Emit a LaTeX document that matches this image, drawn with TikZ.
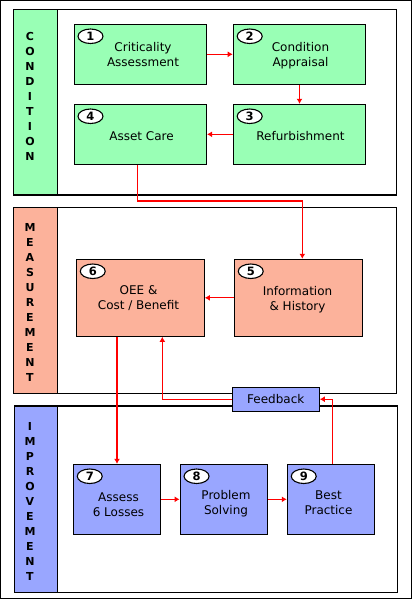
\documentclass[tikz,border=0pt]{standalone}
\usepackage{fontspec}
\setmainfont{DejaVu Sans}
\usetikzlibrary{arrows.meta,shapes.geometric}
\definecolor{cgreen}{RGB}{153,255,181}
\definecolor{csalmon}{RGB}{252,178,155}
\definecolor{cblue}{RGB}{153,166,255}
\definecolor{cred}{RGB}{255,0,0}
\tikzset{
  sect/.style={draw=black,line width=1.1pt},
  stepbox/.style={draw=black,line width=1.1pt,align=center,inner sep=0pt,
    font=\fontsize{12}{15}\selectfont},
  numel/.style={ellipse,draw=black,fill=white,line width=1.1pt,minimum width=25pt,
    minimum height=14.5pt,inner sep=0pt,font=\fontsize{11.5}{12}\bfseries\selectfont},
  vlabel/.style={align=center,inner sep=0pt,font=\fontsize{11}{15}\bfseries\selectfont},
  arr/.style={draw=cred,line width=1.1pt,-{Latex[length=5pt,width=6pt]}},
}
\begin{document}
\begin{tikzpicture}[x=1pt,y=-1pt]
\useasboundingbox (0,0) rectangle (413,600);
\draw[line width=1.1pt] (0.5,0.5) rectangle (411.5,598.5);
% sections
\draw[sect,fill=white] (13.3,9.3) rectangle (396.7,195);
\draw[sect,fill=cgreen] (13.3,9.3) rectangle (57.3,195);
\draw[sect,fill=white] (13.3,207.3) rectangle (396.7,393.3);
\draw[sect,fill=csalmon] (13.3,207.3) rectangle (57.3,393.3);
\draw[sect,fill=white] (14.7,406) rectangle (397.7,592.3);
\draw[sect,fill=cblue] (14.7,406) rectangle (57.3,592.3);
\node[vlabel] (lc) at (30,96.7) {C\\O\\N\\D\\I\\T\\I\\O\\N};
\node[vlabel] (lm) at (30,302.7) {M\\E\\A\\S\\U\\R\\E\\M\\E\\N\\T};
\node[vlabel] (li) at (30,501) {I\\M\\P\\R\\O\\V\\E\\M\\E\\N\\T};
% condition boxes
\node[stepbox,fill=cgreen,minimum width=132.5pt,minimum height=60pt] (b1) at (140.3,54.3) {};
\node[stepbox,fill=cgreen,minimum width=132.5pt,minimum height=60pt] (b2) at (299.5,54.3) {};
\node[stepbox,fill=cgreen,minimum width=132.5pt,minimum height=60pt] (b3) at (299.5,134.3) {};
\node[stepbox,fill=cgreen,minimum width=132.5pt,minimum height=60pt] (b4) at (140.3,134.3) {};
\node[stepbox,draw=none] (t1) at (143,54.5) {Criticality\\Assessment};
\node[stepbox,draw=none] (t2) at (300.5,55.5) {Condition\\Appraisal};
\node[stepbox,draw=none] (t3) at (300.5,136) {Refurbishment};
\node[stepbox,draw=none] (t4) at (141.5,136.5) {Asset Care};
% measurement boxes
\node[stepbox,fill=csalmon,minimum width=128pt,minimum height=77pt] (b5) at (298.3,297.8) {};
\node[stepbox,fill=csalmon,minimum width=128pt,minimum height=77pt] (b6) at (140.3,297.8) {};
\node[stepbox,draw=none] (t5) at (297.5,299.5) {Information\\\& History};
\node[stepbox,draw=none] (t6) at (138.5,298.5) {OEE \&\\Cost / Benefit};
% improvement boxes
\node[stepbox,fill=cblue,minimum width=87.4pt,minimum height=70pt] (b7) at (117,499.3) {};
\node[stepbox,fill=cblue,minimum width=87.4pt,minimum height=70pt] (b8) at (223.8,499.3) {};
\node[stepbox,fill=cblue,minimum width=87.4pt,minimum height=70pt] (b9) at (331,499.3) {};
\node[stepbox,draw=none] (t7) at (118.5,504.5) {Assess\\6 Losses};
\node[stepbox,draw=none] (t8) at (226,503.5) {Problem\\Solving};
\node[stepbox,draw=none] (t9) at (328.5,502.5) {Best\\Practice};
% feedback
\node[stepbox,fill=cblue,minimum width=87pt,minimum height=23.7pt] (fb) at (275.8,399.2) {Feedback};
% number ellipses
\foreach \b/\n in {b1/1,b2/2,b3/3,b4/4,b5/5,b6/6,b7/7,b8/8,b9/9}
  \node[numel] (n\n) at ([xshift=17pt,yshift=-12.5pt]\b.north west) {\n};
% connectors
\draw[arr] (b1.east) -- (b2.west);
\draw[arr] (b2.south) -- (b3.north);
\draw[arr] (b3.west) -- (b4.east);
\coordinate (k1) at (137.3,201);
\coordinate (k2) at (302.3,201);
\draw[arr] (b4.south -| k1) -- (k1) -- (k2) -- (b5.north -| k2);
\draw[arr] (b5.west) -- (b6.east);
\draw[arr] (b6.south -| b7.north) -- (b7.north);
\draw[arr] (b7.east) -- (b8.west);
\draw[arr] (b8.east) -- (b9.west);
\coordinate (k3) at (162.3,399.2);
\draw[arr] (fb.west) -- (k3) -- (b6.south -| k3);
\coordinate (k4) at (332.3,399.2);
\draw[arr] (b9.north -| k4) -- (k4) -- (fb.east);
\end{tikzpicture}
\end{document}
